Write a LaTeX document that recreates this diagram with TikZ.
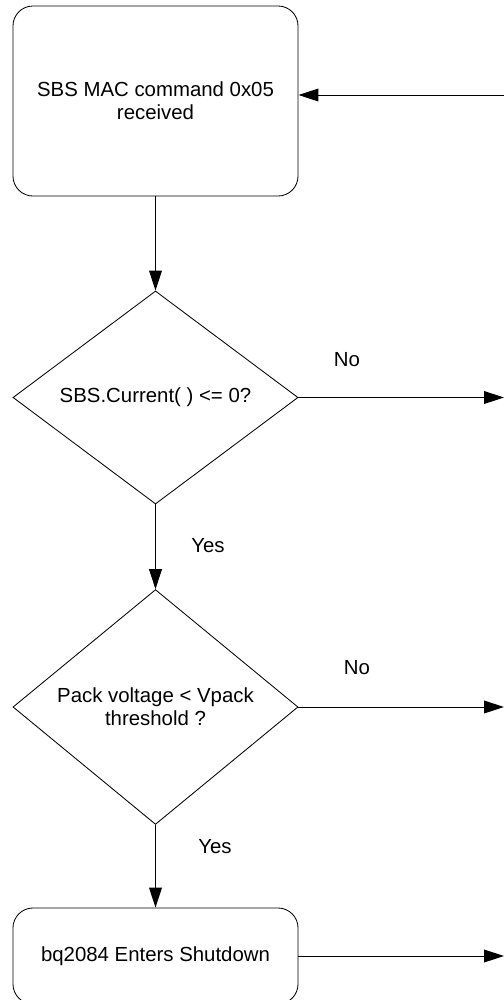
\documentclass[tikz,border=0pt]{standalone}
\usepackage{fontspec}
\setmainfont{Liberation Sans}
\usetikzlibrary{shapes.geometric,arrows.meta}

\begin{document}
\begin{tikzpicture}[x=0.025cm,y=-0.025cm,
    every node/.style={font=\fontsize{14.5}{16.5}\selectfont},
    state/.style={draw, line width=0.6pt, rounded corners=0.5cm, align=center,
                  minimum width=7.125cm, inner sep=0pt},
    test/.style={draw, diamond, line width=0.6pt, align=center, inner sep=0pt,
                 minimum width=7.125cm, minimum height=5.325cm},
    flow/.style={line width=0.7pt, -{Triangle[length=0.5cm,width=0.32cm]}},
    lbl/.style={inner sep=0pt}]
    % Ablauf beim Befehl 0x05
    \useasboundingbox (0,0) rectangle (504,1000);
    \coordinate (edge) at (504,0);
    \coordinate (back) at (504,95);
    \node[state, minimum height=4.75cm] (cmd) at (155.5,101) {SBS MAC command 0x05\\received};
    \node[test] (cur) at (155.5,397.5) {SBS.Current( ) <= 0?};
    \node[test] (volt) at (155.5,707) {Pack voltage < Vpack\\threshold ?};
    \node[state, minimum height=2.4cm] (sd) at (155.5,956) {bq2084 Enters Shutdown};
    % Pfeile
    \draw[flow] (back) -- (back -| cmd.east);
    \draw[flow] (cmd) -- (cur);
    \draw[flow] (cur) -- (volt);
    \draw[flow] (volt) -- (sd);
    \draw[flow] (cur.east) -- (cur.east -| edge);
    \draw[flow] (volt.east) -- (volt.east -| edge);
    \draw[flow] (sd.east) -- (sd.east -| edge);
    % Beschriftung
    \node[lbl] (no1) at (347,360) {No};
    \node[lbl] (yes1) at (208,546) {Yes};
    \node[lbl] (no2) at (357,668) {No};
    \node[lbl] (yes2) at (215,847) {Yes};
\end{tikzpicture}
\end{document}
